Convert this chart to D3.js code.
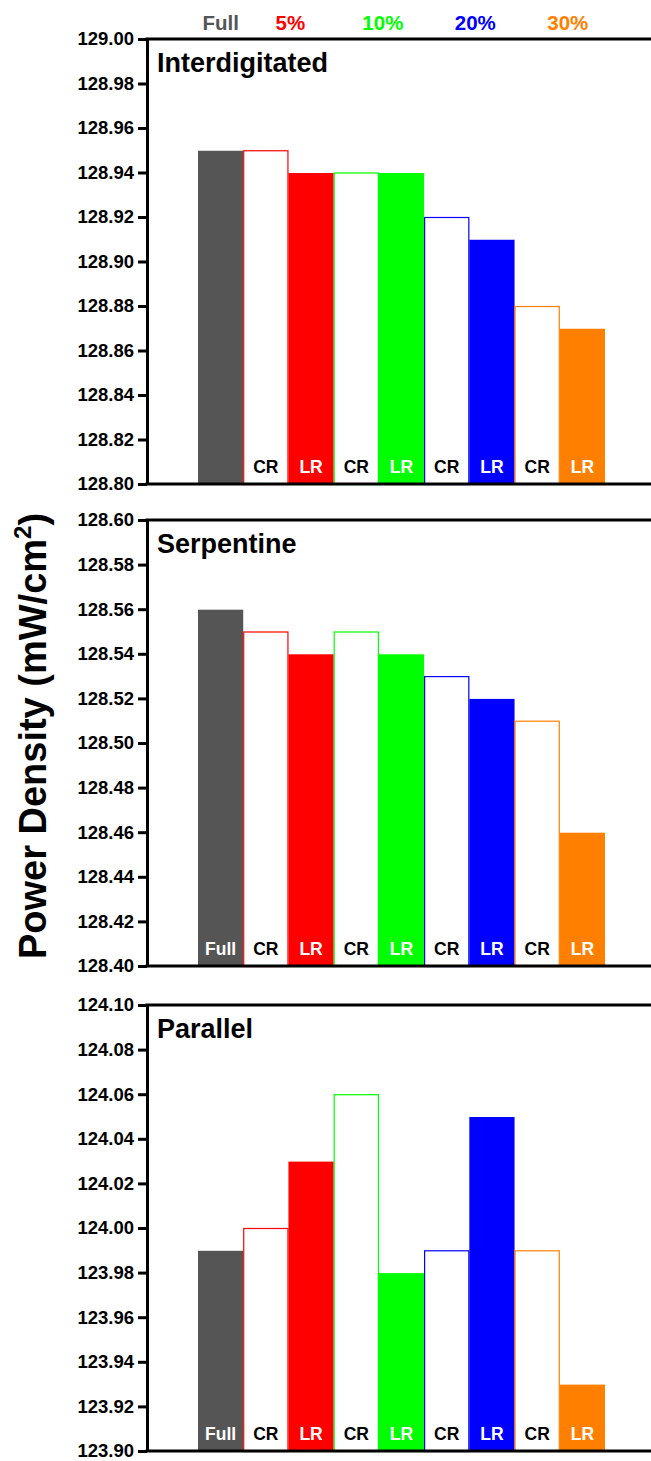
<!DOCTYPE html>
<html>
<head>
<meta charset="utf-8">
<script src="https://cdn.jsdelivr.net/npm/d3@7/dist/d3.min.js"></script>
<style>
  html, body { margin: 0; padding: 0; background: #fff; }
  svg { display: block; font-family: "Liberation Sans", Arial, Helvetica, sans-serif; font-weight: bold; }
</style>
</head>
<body>
<svg id="chart" width="651" height="1461"></svg>
<script>
// Bar order within each panel: full model, then CR / LR pairs per reduction level
const barKeys = ["Full", "CR5", "LR5", "CR10", "LR10", "CR20", "LR20", "CR30", "LR30"];
const barLabels = ["Full", "CR", "LR", "CR", "LR", "CR", "LR", "CR", "LR"];
const barGroup = [0, 1, 1, 2, 2, 3, 3, 4, 4];

// Legend groups and their colours
const groupNames = ["Full", "5%", "10%", "20%", "30%"];
const groupColors = ["#555555", "#ff0000", "#00ff00", "#0000ff", "#ff8000"];

// Power density values (mW/cm²)
const interdigitated = [128.95, 128.95, 128.94, 128.94, 128.94, 128.92, 128.91, 128.88, 128.87];
const serpentine     = [128.56, 128.55, 128.54, 128.55, 128.54, 128.53, 128.52, 128.51, 128.46];
const parallel       = [123.99, 124.00, 124.03, 124.06, 123.98, 123.99, 124.05, 123.99, 123.93];

// Axis ticks for each panel
const ticksInterdigitated = [128.80, 128.82, 128.84, 128.86, 128.88, 128.90, 128.92, 128.94, 128.96, 128.98, 129.00];
const ticksSerpentine     = [128.40, 128.42, 128.44, 128.46, 128.48, 128.50, 128.52, 128.54, 128.56, 128.58, 128.60];
const ticksParallel       = [123.90, 123.92, 123.94, 123.96, 123.98, 124.00, 124.02, 124.04, 124.06, 124.08, 124.10];

const panels = [
  { title: "Interdigitated", values: interdigitated, ticks: ticksInterdigitated, top: 39,   bottom: 484,  fullLabel: false },
  { title: "Serpentine",     values: serpentine,     ticks: ticksSerpentine,     top: 520,  bottom: 966,  fullLabel: true },
  { title: "Parallel",       values: parallel,       ticks: ticksParallel,       top: 1005, bottom: 1451, fullLabel: true }
];

const svg = d3.select("#chart");
const axisX = 147, rightX = 651;

const x = d3.scaleBand()
  .domain(barKeys)
  .range([198, 605])
  .paddingInner(0)
  .paddingOuter(0);

panels.forEach(p => {
  const y = d3.scaleLinear()
    .domain([p.ticks[0], p.ticks[p.ticks.length - 1]])
    .range([p.bottom, p.top]);

  const g = svg.append("g");

  // bars: CR drawn as outlined white boxes, Full / LR filled
  g.selectAll("rect.bar")
    .data(p.values)
    .join("rect")
    .attr("class", "bar")
    .attr("x", (d, i) => x(barKeys[i]) + (barLabels[i] === "CR" ? 0.5 : 0))
    .attr("width", (d, i) => x.bandwidth() - (barLabels[i] === "CR" ? 1 : 0))
    .attr("y", d => y(d) + 0.5)
    .attr("height", d => y(p.ticks[0]) - y(d))
    .attr("fill", (d, i) => barLabels[i] === "CR" ? "#ffffff" : groupColors[barGroup[i]])
    .attr("stroke", (d, i) => barLabels[i] === "CR" ? groupColors[barGroup[i]] : "none")
    .attr("stroke-width", 1.2);

  // bar labels along the base
  barLabels.forEach((lab, i) => {
    if (lab === "Full" && !p.fullLabel) return;
    g.append("text")
      .attr("x", x(barKeys[i]) + x.bandwidth() / 2)
      .attr("y", p.bottom - 11)
      .attr("text-anchor", "middle")
      .attr("font-size", 17.5)
      .attr("fill", lab === "CR" ? "#000000" : "#ffffff")
      .text(lab);
  });

  // left axis
  const yAxis = d3.axisLeft(y)
    .tickValues(p.ticks)
    .tickFormat(d3.format(".2f"))
    .tickSize(9)
    .tickSizeOuter(0)
    .tickPadding(4);
  const ax = g.append("g")
    .attr("transform", `translate(${axisX},0)`)
    .call(yAxis);
  ax.select(".domain").attr("stroke", "#000").attr("stroke-width", 3);
  ax.selectAll(".tick line").attr("stroke", "#000").attr("stroke-width", 3);
  ax.selectAll(".tick text")
    .attr("font-size", 18.5)
    .attr("font-weight", "bold")
    .attr("font-family", "Liberation Sans, Arial, sans-serif")
    .attr("fill", "#000");

  // top and bottom frame lines
  [p.top, p.bottom].forEach(yy => {
    g.append("line")
      .attr("x1", axisX - 1.5).attr("x2", rightX)
      .attr("y1", yy).attr("y2", yy)
      .attr("stroke", "#000").attr("stroke-width", 3);
  });

  // panel title
  g.append("text")
    .attr("x", 157)
    .attr("y", p.top + 33)
    .attr("font-size", 27)
    .attr("fill", "#000")
    .text(p.title);
});

// legend row
groupNames.forEach((name, i) => {
  const cx = i === 0
    ? x(barKeys[0]) + x.bandwidth() / 2
    : x(barKeys[2 * i]) + 2 * i;
  svg.append("text")
    .attr("x", cx)
    .attr("y", 30)
    .attr("text-anchor", "middle")
    .attr("font-size", 20.5)
    .attr("fill", groupColors[i])
    .text(name);
});

// y-axis title
const yt = svg.append("text")
  .attr("transform", "translate(46,736) rotate(-90)")
  .attr("text-anchor", "middle")
  .attr("font-size", 38)
  .attr("fill", "#000");
yt.append("tspan").text("Power Density (mW/cm");
yt.append("tspan").attr("font-size", 24).attr("dy", -15).text("2");
yt.append("tspan").attr("dy", 15).text(")");
</script>
</body>
</html>
